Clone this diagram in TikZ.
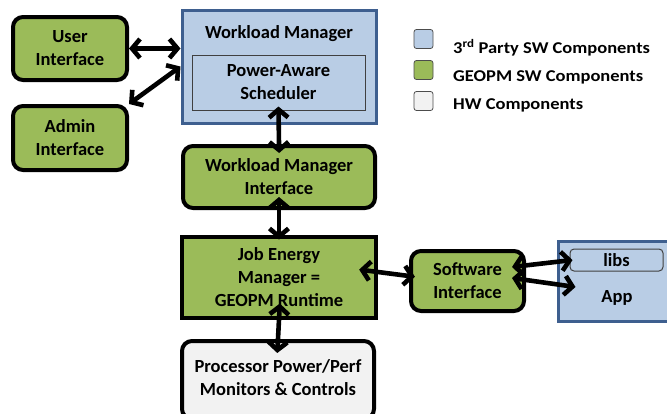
\documentclass[tikz,border=0pt]{standalone}
\usepackage{fontspec}
\setmainfont{Carlito}
\newfontfamily\legfont[FakeStretch=1.12]{Carlito}
\usetikzlibrary{arrows.meta,positioning}
\definecolor{geopmgreen}{HTML}{9BBB59}
\definecolor{thirdblue}{HTML}{B9CDE5}
\definecolor{blueedge}{HTML}{3E5F8F}
\definecolor{hwgray}{HTML}{F2F2F2}

\begin{document}
\begin{tikzpicture}[x=1pt,y=-1pt,
 txt/.style={font=\bfseries\fontsize{18.5}{23}\selectfont,align=center,inner sep=0pt},
 item/.style={txt,draw,line width=4pt,rounded corners=10pt},
 sw/.style={item,fill=geopmgreen},
 third/.style={draw=blueedge,line width=3pt,fill=thirdblue,inner sep=0pt},
 both/.style={line width=4.6pt,{Straight Barb[length=8pt,width=19pt]}-{Straight Barb[length=8pt,width=19pt]}},
 legbox/.style={draw=black!70,line width=0.8pt,rounded corners=2.5pt,minimum size=19pt,inner sep=0pt},
 legtxt/.style={font=\legfont\bfseries\fontsize{16.5}{20}\selectfont,anchor=west,inner sep=0pt}]
 \useasboundingbox (0,0) rectangle (667,413);
 \clip (0,0) rectangle (667,413);

 % workload manager with scheduler
 \node[third,minimum width=194pt,minimum height=113pt] (wm) at (279,66.5) {};
 \node[txt] (wmt) at (279,34) {Workload Manager};
 \node[txt,draw=black!75,line width=1pt,fill=thirdblue,minimum width=173pt,minimum height=55pt] (pas) at (278.5,82.5) {Power-Aware\\Scheduler};

 % interfaces
 \node[sw,minimum width=114pt,minimum height=63pt] (ui) at (70,48.5) {User\\Interface};
 \node[sw,minimum width=114pt,minimum height=64pt] (ai) at (70,138) {Admin\\Interface};
 \node[sw,minimum width=192pt,minimum height=62pt] (wmi) at (279,177) {Workload Manager\\Interface};
 \node[sw,rounded corners=0pt,minimum width=194pt,minimum height=81pt] (jem) at (279,277) {Job Energy\\Manager =\\GEOPM Runtime};
 \node[item,fill=hwgray,minimum width=192pt,minimum height=78pt] (ppm) at (278,380) {};
 \node[txt] (ppmt) at (278,378) {Processor Power/Perf\\Monitors \& Controls};
 \node[sw,minimum width=113pt,minimum height=60pt] (si) at (467.5,281) {Software\\Interface};

 % application
 \node[third,minimum width=118pt,minimum height=80pt] (app) at (617,281) {};
 \node[txt,draw=black!75,line width=1pt,rounded corners=4pt,fill=thirdblue,minimum width=93pt,minimum height=22pt] (libs) at (616.5,260) {libs};
 \node[txt] (appt) at (617,298) {App};

 % connectors
 \draw[both] (ui.east) -- (ui.east -| wm.west);
 \draw[both] (ai.north east) -- (wm.west);
 \draw[both,shorten <=-4pt,shorten >=-9pt] (pas.south) -- (wmi.north);
 \draw[both,shorten <=-13pt,shorten >=-5pt] (wmi.south) -- (jem.north);
 \draw[both,shorten <=-16pt,shorten >=-14pt] (jem.south) -- (ppm.north);
 \draw[both,shorten <=-19pt,shorten >=-6pt] ([yshift=5pt]jem.east) -- ([yshift=5pt]si.west);
 \draw[both] ([xshift=-14pt,yshift=14pt]si.east) -- ([xshift=3pt]libs.west);
 \draw[both] ([xshift=-14pt,yshift=3pt]si.east) -- ([xshift=19pt,yshift=-6pt]app.west);

 % legend
 \node[legbox,fill=thirdblue] (lb1) at (423.5,39) {};
 \node[legbox,fill=geopmgreen] (lb2) at (423.5,70) {};
 \node[legbox,fill=hwgray] (lb3) at (423.5,101) {};
 \node[legtxt] (lt1) at (453,48) {3\textsuperscript{rd} Party SW Components};
 \node[legtxt] (lt2) at (453,77) {GEOPM SW Components};
 \node[legtxt] (lt3) at (453,105) {HW Components};
\end{tikzpicture}
\end{document}
